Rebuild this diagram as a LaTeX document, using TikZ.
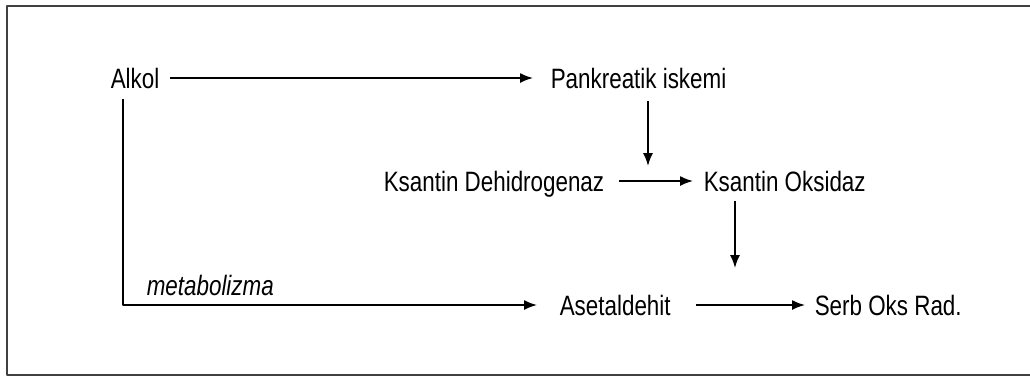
\documentclass[tikz,border=0pt]{standalone}
\usepackage{fontspec}
\setmainfont{Liberation Sans}[FakeStretch=0.8]
\usetikzlibrary{arrows.meta}
\begin{document}
\begin{tikzpicture}[x=0.5pt,y=-0.5pt,line join=round,
		>={Latex[length=6.5pt,width=5pt]},line width=0.8pt,
		font=\fontsize{14pt}{16pt}\selectfont,
		kutu/.style={inner sep=0pt,anchor=base west,text height=10pt,text depth=0pt}]
			\useasboundingbox (0,0) rectangle (1030,377);
			% Çerçeve
			\draw[line width=1pt,black!75] (1040,6)--(7,6)--(7,375)--(1040,375);
			% Satır 1
			\node[kutu] (alkol) at (110,88) {Alkol};
			\node[kutu] (pank) at (550,88) {Pankreatik iskemi};
			% Satır 2
			\node[kutu] (kdh) at (383,191) {Ksantin Dehidrogenaz};
			\node[kutu] (kox) at (703,191) {Ksantin Oksidaz};
			% Satır 3
			\node[kutu] (aset) at (559,315) {Asetaldehit};
			\node[kutu] (serb) at (814,315) {Serb Oks Rad.};
			\node[kutu,font=\fontsize{14pt}{16pt}\selectfont\itshape] (metab) at (146,295) {metabolizma};
			% Oklar
			\coordinate (ok1) at (648,166);
			\coordinate (ok2) at (735,268);
			\draw[->] ([xshift=5pt]alkol.east)--([xshift=-8.5pt]pank.west);
			\draw[->] ([xshift=6.5pt,yshift=-5pt]alkol.south west) |- ([xshift=-11pt]aset.west);
			\draw[->] (ok1 |- pank.south) ++(0,12) -- (ok1);
			\draw[->] ([xshift=7pt]kdh.east)--([xshift=-5pt]kox.west);
			\draw[->] (ok2 |- kox.south) ++(0,9) -- (ok2);
			\draw[->] ([xshift=12.5pt]aset.east)--([xshift=-4.5pt]serb.west);
		\end{tikzpicture}
\end{document}
